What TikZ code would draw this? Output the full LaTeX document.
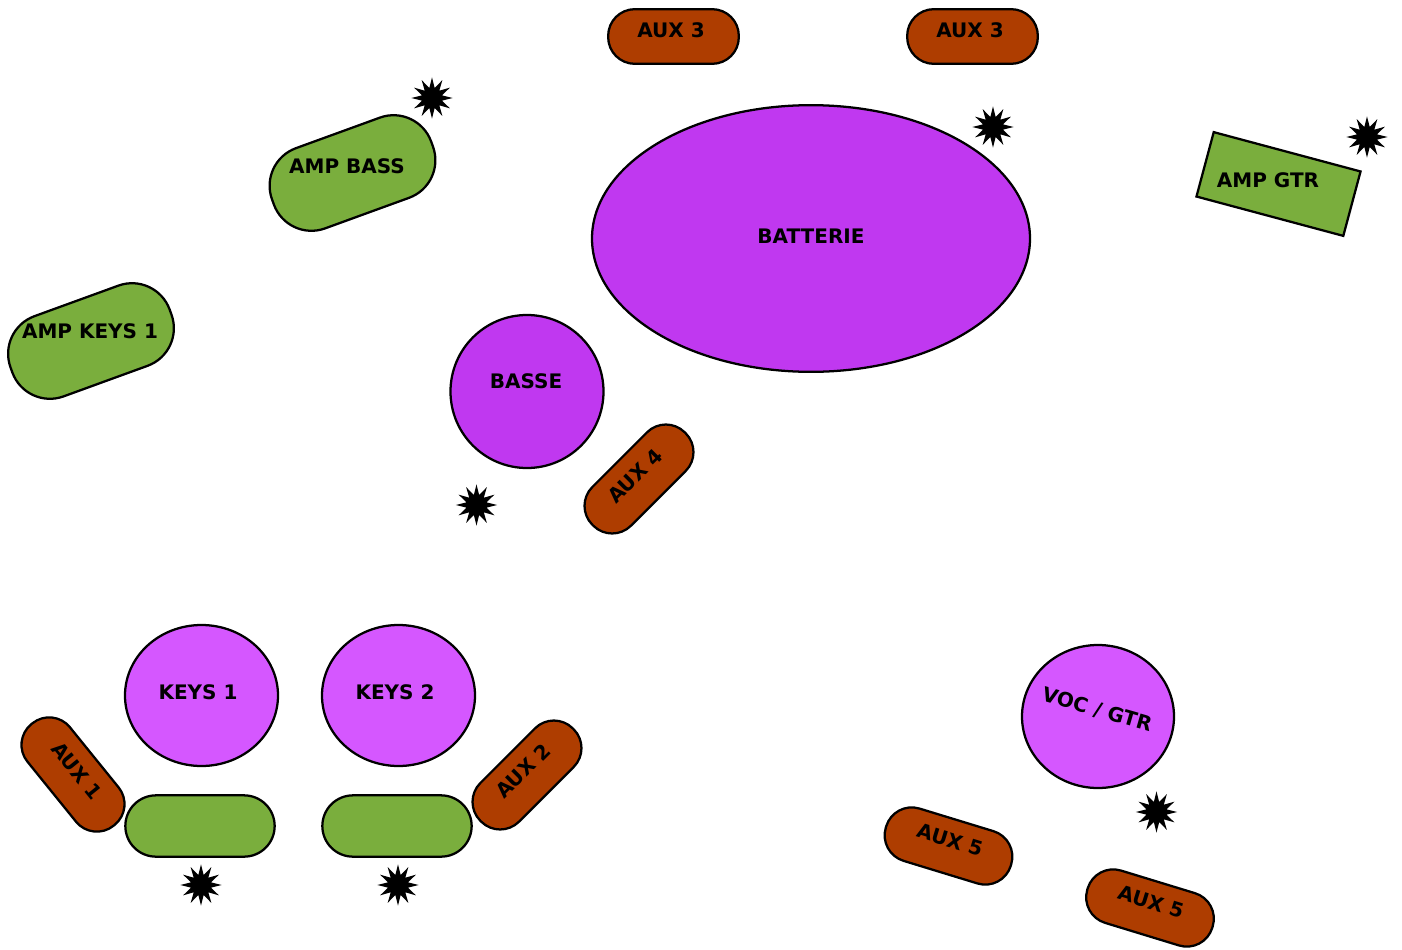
\documentclass[tikz,border=0pt]{standalone}
\usepackage{fontspec}
\setmainfont{DejaVu Sans}
\usetikzlibrary{shapes.geometric}
\definecolor{auxc}{RGB}{174,61,0}
\definecolor{ampc}{RGB}{122,174,61}
\definecolor{drumc}{RGB}{192,56,240}
\definecolor{musc}{RGB}{213,87,255}
\tikzset{
  outl/.style={draw=black, line width=1.7pt, inner sep=0pt},
  auxpill/.style={outl, fill=auxc, rectangle, rounded corners=20pt, minimum width=98pt, minimum height=41pt},
  amppill/.style={outl, fill=ampc, rectangle, rounded corners=30pt, minimum width=127pt, minimum height=64pt},
  keypill/.style={outl, fill=ampc, rectangle, rounded corners=23pt, minimum width=112pt, minimum height=46pt},
  gtrbox/.style={outl, fill=ampc, rectangle, minimum width=114pt, minimum height=50pt},
  drum/.style={outl, fill=drumc, ellipse},
  musician/.style={outl, fill=musc, ellipse},
  spk/.style={star, star points=12, star point ratio=2, fill=black, draw=none, minimum size=31pt, inner sep=0pt},
  lbl/.style={font=\bfseries\fontsize{15}{17}\selectfont, inner sep=0pt},
}
\begin{document}
\begin{tikzpicture}[x=0.75pt, y=-0.75pt]
\useasboundingbox (0,0) rectangle (1402,949);
% AUX 3 wedges
\node[auxpill] (aux3a) at (673.5,36.5) {};
\node[auxpill] (aux3b) at (972.5,36.5) {};
\node[lbl] (t3a) at (671,30) {AUX 3};
\node[lbl] (t3b) at (970,30) {AUX 3};
% Drums
\node[drum, minimum width=328.5pt, minimum height=200pt] (batterie) at (811,238.5) {};
\node[lbl] (tbat) at (811,236) {BATTERIE};
% Amps
\node[amppill, rotate=20] (ampbass) at (352.5,173) {};
\node[lbl] (tampbass) at (347,166) {AMP BASS};
\node[amppill, rotate=20] (ampkeys) at (91,341) {};
\node[lbl] (tampkeys) at (90,331) {AMP KEYS 1};
\node[gtrbox, rotate=-15] (ampgtr) at (1278.5,184) {};
\node[lbl] (tampgtr) at (1268,180) {AMP GTR};
% Bass
\node[drum, minimum width=114.75pt, minimum height=114.75pt] (basse) at (527,391.5) {};
\node[lbl] (tbasse) at (526,381) {BASSE};
\node[auxpill, rotate=45] (aux4) at (639,479) {};
\node[lbl, rotate=45] (taux4) at (635,476) {AUX 4};
% Keys
\node[musician, minimum width=114.75pt, minimum height=105.75pt] (keys1) at (201.5,695.5) {};
\node[musician, minimum width=114.75pt, minimum height=105.75pt] (keys2) at (398.5,695.5) {};
\node[lbl] (tkeys1) at (198,692) {KEYS 1};
\node[lbl] (tkeys2) at (395,692) {KEYS 2};
\node[keypill] (pill1) at (200,826) {};
\node[keypill] (pill2) at (397,826) {};
\node[auxpill, rotate=-51] (aux1) at (73,774.5) {};
\node[lbl, rotate=-51] (taux1) at (77,771) {AUX 1};
\node[auxpill, rotate=45] (aux2) at (527,775) {};
\node[lbl, rotate=45] (taux2) at (523,771) {AUX 2};
% Voc / Gtr
\node[musician, minimum width=114pt, minimum height=107.25pt] (voc) at (1098,716.5) {};
\node[lbl, rotate=-16] (tvoc) at (1097,710) {VOC / GTR};
\node[auxpill, rotate=-17] (aux5a) at (948.5,846) {};
\node[lbl, rotate=-17] (taux5a) at (950,840) {AUX 5};
\node[auxpill, rotate=-17] (aux5b) at (1150,908) {};
\node[lbl, rotate=-17] (taux5b) at (1151,902) {AUX 5};
% Power points
\node[spk] (s1) at (432,98) {};
\node[spk] (s2) at (993,127) {};
\node[spk] (s3) at (1367,137) {};
\node[spk] (s4) at (476.5,505) {};
\node[spk] (s5) at (201,885) {};
\node[spk] (s6) at (398,885) {};
\node[spk] (s7) at (1156.5,812) {};
\end{tikzpicture}
\end{document}
